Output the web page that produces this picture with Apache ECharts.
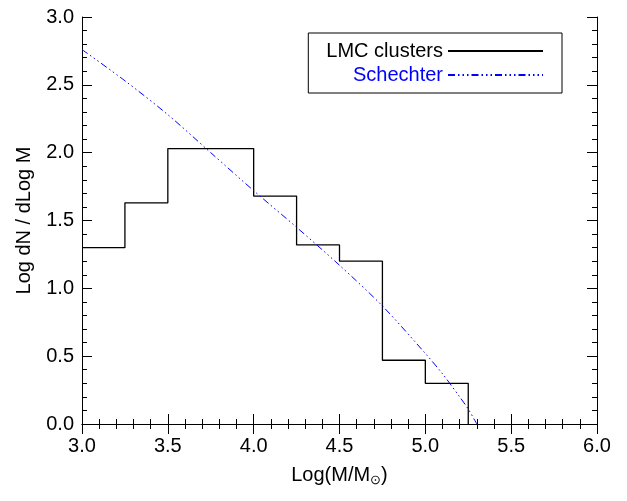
<!DOCTYPE html>
<html><head><meta charset="utf-8">
<script src="https://cdn.jsdelivr.net/npm/echarts@6/dist/echarts.min.js"></script>
<style>html,body{margin:0;background:#fff}#main{width:627px;height:501px}</style>
</head><body><div id="main"></div>
<script>
// histogram left bin edges and heights
var binEdges = [3.0, 3.25, 3.5, 3.75, 4.0, 4.25, 4.5, 4.75, 5.0, 5.25];
var binHeights = [1.30, 1.63, 2.03, 2.03, 1.68, 1.32, 1.20, 0.47, 0.30, 0.0];
// Schechter curve samples
var schX = [3.0, 3.25, 3.5, 3.75, 4.0, 4.25, 4.5, 4.75, 5.0, 5.1, 5.2, 5.25, 5.3];
var schY = [2.76, 2.53, 2.28, 2.00, 1.72, 1.45, 1.17, 0.87, 0.52, 0.37, 0.20, 0.11, 0.0];
var xTicks = [3.0, 3.5, 4.0, 4.5, 5.0, 5.5, 6.0];

var font = 'Liberation Sans';
var hist = binEdges.map(function(x, i){ return [x, binHeights[i]]; });
var sch = schX.map(function(x, i){ return [x, schY[i]]; });

var axisCommon = {
  axisLine: {lineStyle: {color: '#000', width: 1}},
  axisTick: {inside: true, length: 10, lineStyle: {color: '#000'}},
  minorTick: {show: true, splitNumber: 5, length: 5, lineStyle: {color: '#000'}},
  splitLine: {show: false}
};
var myChart = echarts.init(document.getElementById('main'));
var option = {
  textStyle: {fontFamily: font},
  grid: {left: 82, right: 30, top: 17, bottom: 77},
  xAxis: [
    Object.assign({type: 'value', min: 3, max: 6, interval: 0.5,
      name: 'Log(M/M{s|⊙})', nameLocation: 'middle', nameGap: 40,
      nameTextStyle: {fontSize: 20, color: '#000', rich: {s: {fontSize: 13, verticalAlign: 'bottom', padding: [10,0,0,0]}}},
      axisLabel: {fontSize: 20, color: '#000', margin: 12, formatter: function(v){ return v.toFixed(1); }}}, axisCommon),
    Object.assign({type: 'value', position: 'top', min: 3, max: 6, interval: 0.5, axisLabel: {show: false}}, axisCommon)
  ],
  yAxis: [
    Object.assign({type: 'value', min: 0, max: 3, interval: 0.5,
      name: 'Log dN / dLog M', nameLocation: 'middle', nameGap: 48,
      nameTextStyle: {fontSize: 20, color: '#000'},
      axisLabel: {fontSize: 20, color: '#000', formatter: function(v){ return v.toFixed(1); }}}, axisCommon),
    Object.assign({type: 'value', position: 'right', min: 0, max: 3, interval: 0.5, axisLabel: {show: false}}, axisCommon)
  ],
  legend: {
    right: 65, top: 33, orient: 'vertical', align: 'right',
    itemWidth: 95, itemHeight: 10, itemGap: 4,
    itemStyle: {opacity: 0},
    borderColor: '#000', borderWidth: 1, borderRadius: 0, padding: [8, 18, 8, 18],
    textStyle: {fontSize: 20},
    data: [
      {name: 'LMC clusters', textStyle: {color: '#000'}},
      {name: 'Schechter', textStyle: {color: '#0000ff'}}
    ]
  },
  series: [
    {name: 'LMC clusters', type: 'line', step: 'end', data: hist, symbol: 'none',
      lineStyle: {color: '#000', width: 1.3}, itemStyle: {color: '#000'}},
    {name: 'Schechter', type: 'line', smooth: 0.3, data: sch, symbol: 'none',
      lineStyle: {color: '#0000ff', width: 1, type: [7, 3, 1.5, 3, 1.5, 3, 1.5, 3]}, itemStyle: {color: '#0000ff'}}
  ]
};
myChart.setOption(option);
</script></body></html>
